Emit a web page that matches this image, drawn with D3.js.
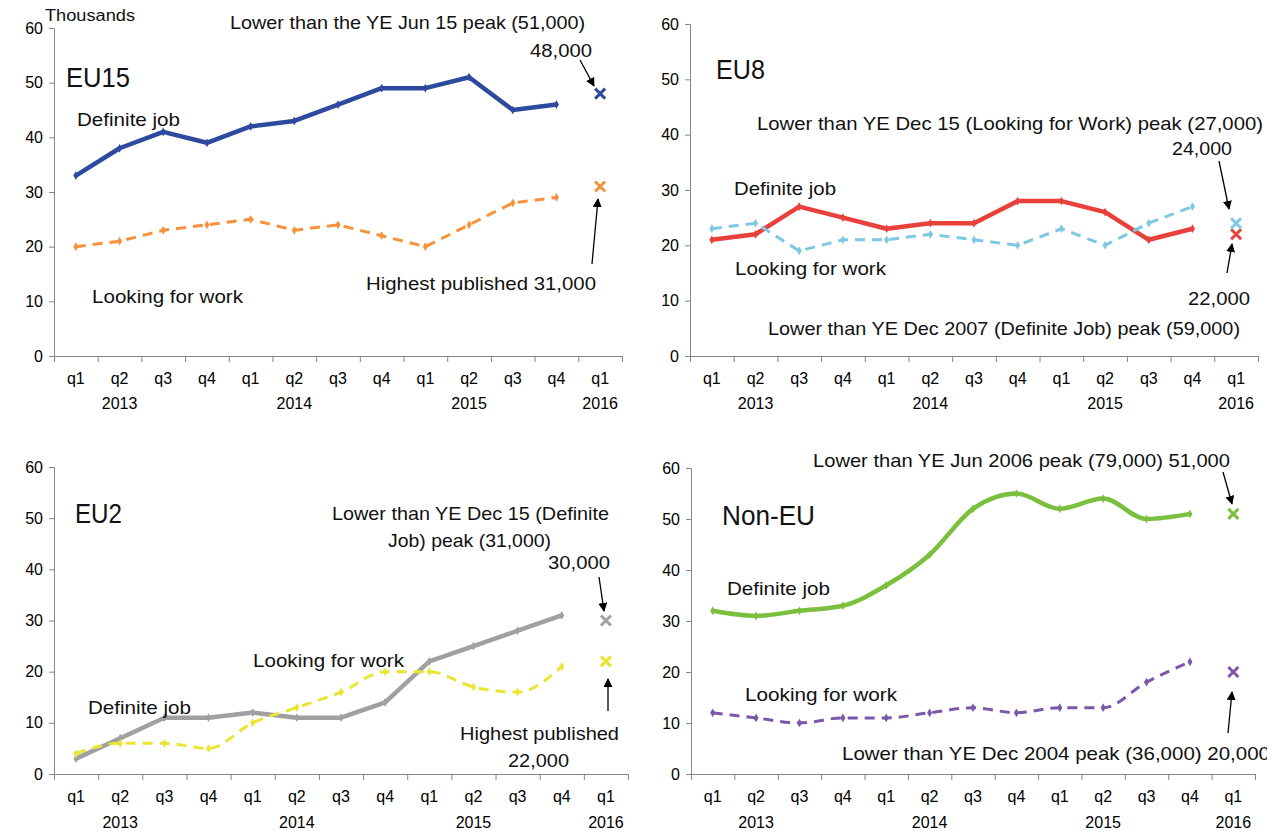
<!DOCTYPE html>
<html>
<head>
<meta charset="utf-8">
<script src="https://cdn.jsdelivr.net/npm/d3@7"></script>
<style>
  body { margin: 0; background: #fff; }
  svg { display: block; font-family: "Liberation Sans", Arial, sans-serif; }
</style>
</head>
<body>
<svg width="1267" height="831"></svg>
<script>
// categories
var quarters = ["q1","q2","q3","q4","q1","q2","q3","q4","q1","q2","q3","q4","q1"];
var years = [["2013", 1], ["2014", 5], ["2015", 9], ["2016", 12]];
var yTicks = [0, 10, 20, 30, 40, 50, 60];

// thousands, q1 2013 .. q4 2015, then the q1 2016 figure
var eu15Job  = [33, 38, 41, 39, 42, 43, 46, 49, 49, 51, 45, 46];
var eu15Look = [20, 21, 23, 24, 25, 23, 24, 22, 20, 24, 28, 29];
var eu15Latest = [48, 31];

var eu8Job  = [21, 22, 27, 25, 23, 24, 24, 28, 28, 26, 21, 23];
var eu8Look = [23, 24, 19, 21, 21, 22, 21, 20, 23, 20, 24, 27];
var eu8Latest = [22, 24];

var eu2Job  = [3, 7, 11, 11, 12, 11, 11, 14, 22, 25, 28, 31];
var eu2Look = [4, 6, 6, 5, 10, 13, 16, 20, 20, 17, 16, 21];
var eu2Latest = [30, 22];

var nonJob  = [32, 31, 32, 33, 37, 43, 52, 55, 52, 54, 50, 51];
var nonLook = [12, 11, 10, 11, 11, 12, 13, 12, 13, 13, 18, 22];
var nonLatest = [51, 20];

var panels = [
  {name: "EU15", left: 54, right: 622, top: 28, bottom: 356, yearY: 409,
   job: eu15Job, look: eu15Look, latest: eu15Latest,
   colors: ["#2D4A9E", "#F7923A"], smooth: [false, false],
   notes: [
     ["Thousands", 45, 21, 90, 16],
     ["Lower than the YE Jun 15 peak (51,000)", 230, 29, 355, 19],
     ["48,000", 530, 57, 62, 19],
     ["EU15", 66, 87, 64, 27],
     ["Definite job", 77, 126, 103, 19],
     ["Looking for work", 92, 303, 151, 19],
     ["Highest published  31,000", 366, 290, 230, 19]
   ],
   arrows: [[580, 60, 594, 86], [592, 264, 598, 199]]},
  {name: "EU8", left: 690, right: 1258, top: 24, bottom: 356, yearY: 409,
   job: eu8Job, look: eu8Look, latest: eu8Latest,
   colors: ["#E8403B", "#7DC9E4"], smooth: [false, false],
   notes: [
     ["EU8", 716, 79, 49, 27],
     ["Lower than YE Dec 15 (Looking  for Work) peak (27,000)", 757, 130, 506, 19],
     ["24,000", 1172, 155, 60, 19],
     ["Definite job", 734, 195, 102, 19],
     ["Looking for work", 735, 275, 151, 19],
     ["22,000", 1188, 305, 62, 19],
     ["Lower than YE Dec 2007 (Definite Job) peak (59,000)", 768, 335, 472, 19]
   ],
   arrows: [[1219, 161, 1229, 209], [1227, 273, 1232, 244]]},
  {name: "EU2", left: 54, right: 628, top: 467, bottom: 774, yearY: 828,
   job: eu2Job, look: eu2Look, latest: eu2Latest,
   colors: ["#A0A0A0", "#EBE532"], smooth: [false, true],
   notes: [
     ["EU2", 75, 523, 47, 27],
     ["Lower than YE Dec 15 (Definite", 332, 520, 277, 19],
     ["Job) peak (31,000)", 388, 547, 163, 19],
     ["30,000", 548, 569, 62, 19],
     ["Looking for work", 253, 667, 151, 19],
     ["Definite job", 88, 714, 103, 19],
     ["Highest published", 460, 740, 159, 19],
     ["22,000", 508, 767, 61, 19]
   ],
   arrows: [[599, 577, 604, 611], [608, 711, 608, 679]]},
  {name: "Non-EU", left: 691, right: 1255, top: 468, bottom: 774, yearY: 828,
   job: nonJob, look: nonLook, latest: nonLatest,
   colors: ["#7BBF3E", "#7A57A8"], smooth: [true, true],
   notes: [
     ["Non-EU", 722, 525, 93, 27],
     ["Lower than YE Jun 2006 peak (79,000)  51,000", 813, 467, 417, 19],
     ["Definite job", 727, 595, 103, 19],
     ["Looking for work", 745, 701, 152, 19],
     ["Lower than YE Dec 2004 peak (36,000)  20,000", 842, 760, 428, 19]
   ],
   arrows: [[1223, 472, 1232, 504], [1228, 733, 1232, 692]]}
];

var svg = d3.select("svg");

svg.append("defs").append("marker")
    .attr("id", "head")
    .attr("viewBox", "0 0 10 10")
    .attr("refX", 9).attr("refY", 5)
    .attr("markerWidth", 9).attr("markerHeight", 9)
    .attr("markerUnits", "userSpaceOnUse")
    .attr("orient", "auto")
  .append("path")
    .attr("d", "M0,0L10,5L0,10z")
    .attr("fill", "#000");

panels.forEach(drawPanel);

function drawPanel(p) {
  var g = svg.append("g");
  var x = d3.scaleBand().domain(d3.range(quarters.length)).range([p.left, p.right]);
  var xEdge = d3.scaleLinear().domain([0, quarters.length]).range([p.left, p.right]);
  var y = d3.scaleLinear().domain([0, 60]).range([p.bottom, p.top]);
  var cx = i => x(i) + x.bandwidth() / 2;

  // y axis
  var ya = g.append("g")
      .attr("transform", "translate(" + p.left + ",0)")
      .call(d3.axisLeft(y).tickValues(yTicks).tickSize(5).tickPadding(6));
  ya.select(".domain").attr("stroke", "#868686");
  ya.selectAll(".tick line").attr("stroke", "#868686");
  ya.selectAll("text").attr("font-size", 16).attr("fill", "#000")
      .attr("font-family", "inherit");

  // x axis, ticks between categories
  var xa = g.append("g")
      .attr("transform", "translate(0," + p.bottom + ")")
      .call(d3.axisBottom(xEdge).tickValues(d3.range(quarters.length + 1)).tickFormat("").tickSize(6));
  xa.select(".domain").attr("stroke", "#868686");
  xa.selectAll(".tick line").attr("stroke", "#868686");

  var xl = g.append("g")
      .attr("transform", "translate(0," + p.bottom + ")")
      .call(d3.axisBottom(x).tickFormat(i => quarters[i]).tickSize(0).tickPadding(17));
  xl.select(".domain").remove();
  xl.selectAll("text").attr("font-size", 16).attr("fill", "#000")
      .attr("font-family", "inherit");

  g.selectAll(".year").data(years).join("text")
      .attr("x", d => cx(d[1]))
      .attr("y", p.yearY)
      .attr("text-anchor", "middle")
      .attr("font-size", 16)
      .text(d => d[0]);

  // series
  [p.job, p.look].forEach(function(vals, k) {
    var line = d3.line()
        .x((d, i) => cx(i))
        .y(d => y(d))
        .curve(p.smooth[k] ? d3.curveMonotoneX : d3.curveLinear);
    g.append("path")
        .datum(vals)
        .attr("fill", "none")
        .attr("stroke", p.colors[k])
        .attr("stroke-width", k === 0 ? 4.5 : 3)
        .attr("stroke-linejoin", "round")
        .attr("stroke-dasharray", k === 0 ? null : "10,7")
        .attr("d", line);
    g.selectAll(null).data(vals).join("path")
        .attr("transform", (d, i) => "translate(" + cx(i) + "," + y(d) + ")")
        .attr("d", d3.symbol(d3.symbolDiamond, 22))
        .attr("fill", p.colors[k]);

    // q1 2016 cross
    var last = quarters.length - 1;
    g.append("path")
        .attr("transform", "translate(" + cx(last) + "," + y(p.latest[k]) + ")")
        .attr("d", "M-5,-5L5,5M-5,5L5,-5")
        .attr("stroke", p.colors[k])
        .attr("stroke-width", 3);
  });

  // annotations
  g.selectAll(".note").data(p.notes).join("text")
      .attr("x", d => d[1])
      .attr("y", d => d[2])
      .attr("font-size", d => d[4])
      .attr("textLength", d => d[3])
      .attr("lengthAdjust", "spacingAndGlyphs")
      .attr("fill", "#111")
      .text(d => d[0]);

  g.selectAll(".arrow").data(p.arrows).join("line")
      .attr("x1", d => d[0]).attr("y1", d => d[1])
      .attr("x2", d => d[2]).attr("y2", d => d[3])
      .attr("stroke", "#000")
      .attr("stroke-width", 1.3)
      .attr("marker-end", "url(#head)");
}
</script>
</body>
</html>
